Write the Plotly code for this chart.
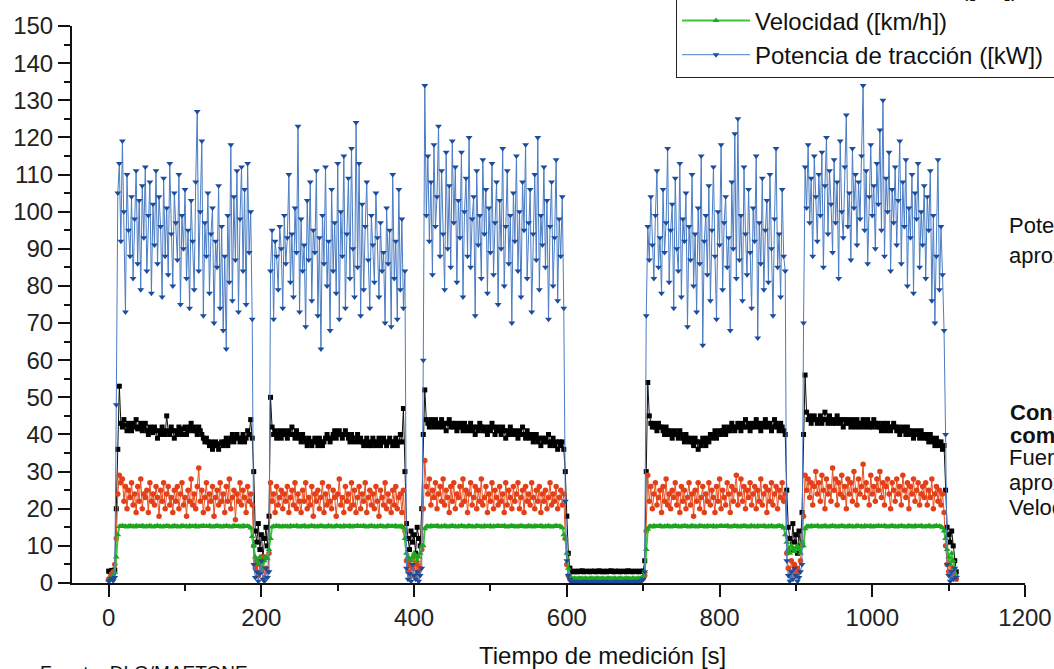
import plotly.graph_objects as go

# ---------------- sampling instants (s) per phase ----------------
T_PRE = list(range(0, 10, 2))
T_S1 = list(range(10, 190, 2))
T_G1 = list(range(190, 212, 2))
T_S2 = list(range(212, 390, 2))
T_G2 = list(range(390, 412, 2))
T_S3 = list(range(412, 598, 2))
T_FLAT = list(range(598, 704, 2))
T_S4 = list(range(704, 888, 2))
T_G4 = list(range(888, 910, 2))
T_S5 = list(range(910, 1096, 2))
T_END = list(range(1096, 1112, 2))

# ---------------- Potencia de tracción [kW] ----------------
P_PRE = [0.5, 0.8, 1.2, 0.6, 1.5]
P_S1 = [48, 105, 113, 92, 119, 100, 73, 110, 95, 88,
        104, 82, 98, 111, 86, 103, 79, 107, 93, 112,
        84, 99, 108, 78, 102, 91, 111, 86, 104, 96,
        77, 109, 88, 101, 83, 113, 94, 80, 105, 97,
        87, 110, 75, 99, 90, 106, 82, 95, 74, 103,
        92, 79, 108, 127, 84, 100, 119, 72, 97, 88,
        105, 78, 94, 101, 70, 92, 85, 107, 74, 96,
        68, 88, 63, 99, 81, 118, 76, 104, 87, 111,
        73, 98, 112, 84, 106, 75, 113, 89, 100, 71]
P_G1 = [5, 1.5, 3, 0.5, 2.5, 6, 1, 0.5, 4, 1.5, 3]
P_S2 = [84, 95, 71, 92, 88, 79, 96, 90, 74, 99,
        86, 93, 110, 81, 94, 77, 101, 89, 123, 73,
        98, 84, 91, 69, 103, 87, 108, 76, 95, 89,
        111, 72, 93, 63, 99, 86, 112, 80, 92, 68,
        106, 84, 97, 78, 113, 71, 100, 88, 115, 74,
        94, 109, 82, 117, 90, 77, 124, 85, 113, 72,
        102, 79, 96, 108, 87, 74, 99, 91, 81, 105,
        93, 77, 97, 84, 89, 70, 101, 86, 95, 69,
        110, 82, 92, 71, 106, 79, 98, 74, 84]
P_G2 = [4, 1, 2.5, 0.5, 5, 2, 1, 3, 0.5, 2, 4]
P_S3 = [60, 134, 99, 115, 92, 108, 83, 118, 96, 104,
        123, 88, 111, 94, 79, 116, 90, 107, 85, 119,
        97, 112, 81, 103, 93, 116, 77, 100, 109, 88,
        120, 85, 98, 104, 72, 111, 91, 99, 82, 114,
        94, 106, 78, 101, 89, 113, 83, 97, 108, 75,
        103, 90, 117, 80, 96, 111, 86, 99, 70, 105,
        92, 115, 84, 100, 77, 108, 95, 118, 82, 97,
        106, 73, 94, 110, 87, 120, 79, 99, 91, 112,
        85, 103, 71, 96, 108, 80, 93, 114, 76, 98,
        88, 104, 74]
P_FLAT = [22, 6, 2, 1,
          0.4, 0.3, 0.5, 0.3, 0.4, 0.2, 0.4, 0.3, 0.5, 0.3,
          0.4, 0.3, 0.2, 0.4, 0.3, 0.5, 0.4, 0.3, 0.4, 0.2,
          0.3, 0.4, 0.5, 0.3, 0.4, 0.3, 0.2, 0.4, 0.3, 0.5,
          0.4, 0.3, 0.4, 0.2, 0.3, 0.4, 0.5, 0.3, 0.4, 0.3,
          0.2, 0.4, 0.3, 0.5, 0.4, 0.3, 0.6, 1.0,
          3]
P_S4 = [72, 96, 87, 104, 91, 82, 99, 111, 85, 93,
        78, 106, 89, 97, 117, 81, 95, 102, 74, 109,
        90, 84, 113, 77, 98, 92, 105, 69, 96, 87,
        110, 80, 94, 73, 101, 86, 115, 64, 92, 99,
        83, 107, 76, 95, 112, 88, 71, 100, 91, 118,
        79, 97, 104, 85, 93, 68, 108, 90, 121, 82,
        125, 87, 99, 76, 112, 94, 83, 106, 89, 74,
        101, 92, 115, 66, 97, 86, 109, 79, 95, 103,
        81, 110, 90, 72, 98, 117, 85, 94, 77, 106,
        88, 84]
P_G4 = [6, 2, 0.5, 3, 1, 4, 2, 0.5, 1.5, 3, 5]
P_S5 = [70, 112, 101, 118, 97, 109, 88, 115, 104, 92,
        110, 99, 116, 85, 107, 120, 94, 111, 102, 89,
        114, 97, 108, 82, 119, 100, 93, 112, 126, 96,
        105, 87, 117, 101, 110, 91, 108, 98, 115, 134,
        95, 111, 86, 104, 118, 99, 107, 90, 113, 102,
        122, 95, 130, 88, 109, 100, 116, 84, 106, 97,
        112, 91, 103, 119, 86, 108, 96, 114, 80, 101,
        93, 110, 78, 105, 98, 113, 85, 100, 91, 107,
        82, 104, 95, 111, 76, 99, 70, 88, 114, 79,
        96, 83, 68]
P_END = [40, 5, 2, 0.5, 3, 1, 4, 1.5]

# ---------------- Consumo de combustible [l/h] ----------------
C_PRE = [3.2, 3.0, 3.4, 2.8, 3.5]
C_S1 = [20, 36, 53, 43, 42, 44, 42.5, 41, 43, 42,
        41, 43, 42, 44, 41.5, 42, 43, 41, 42, 43,
        41, 40, 42, 41, 40.5, 42, 41, 39, 41, 40,
        42, 41, 40, 45, 41, 40, 42, 41, 39, 41,
        40, 42, 41, 40, 41.5, 42, 40, 41, 42, 43,
        41, 42, 41, 40, 42, 41, 40, 39, 38, 39,
        38, 37, 38, 36, 37, 38, 37, 36, 37.5, 38,
        37, 38, 39, 37, 38, 39, 40, 38, 39, 40,
        39, 38, 39, 40, 38, 39, 41, 40, 44, 39]
C_G1 = [30, 14, 11, 16, 9, 13, 7, 12, 15, 10, 18]
C_S2 = [50, 42, 40, 41, 39, 40, 41, 39, 40, 41,
        40, 39, 41, 40, 42, 40, 39, 41, 40, 39,
        38, 40, 39, 38, 37, 39, 38, 37, 38, 39,
        38, 37, 39, 38, 37, 38, 39, 40, 39, 38,
        39, 40, 41, 39, 40, 41, 40, 39, 40, 41,
        40, 39, 38, 40, 39, 38, 39, 40, 38, 39,
        38, 37, 38, 39, 37, 38, 37, 39, 38, 37,
        38, 39, 37, 38, 39, 38, 37, 38, 39, 38,
        37, 38, 39, 37, 38, 40, 38, 47, 30]
C_G2 = [16, 12, 9, 14, 11, 13, 8, 15, 12, 10, 20]
C_S3 = [40, 52, 44, 43, 42, 44, 43, 42, 44, 43,
        42, 43, 44, 42, 43, 41, 43, 44, 42, 43,
        42, 43, 41, 42, 43, 42, 41, 43, 42, 41,
        42, 43, 41, 42, 40, 42, 41, 43, 42, 41,
        42, 41, 40, 42, 41, 43, 42, 40, 41, 42,
        41, 40, 42, 41, 39, 41, 40, 42, 41, 40,
        41, 40, 39, 41, 40, 42, 40, 39, 41, 40,
        39, 40, 38, 39, 40, 38, 39, 37, 39, 38,
        39, 38, 40, 37, 38, 39, 37, 38, 36, 38,
        37, 38, 36]
C_FLAT = [30, 18, 8, 4,
          3.1, 3.0, 3.2, 3.1, 3.0, 3.2, 3.1, 3.3, 3.0, 3.1,
          3.2, 3.1, 3.0, 3.2, 3.1, 3.2, 3.0, 3.1, 3.3, 3.1,
          3.0, 3.2, 3.1, 3.0, 3.2, 3.1, 3.3, 3.1, 3.0, 3.2,
          3.1, 3.2, 3.0, 3.1, 3.2, 3.1, 3.0, 3.3, 3.1, 3.2,
          3.0, 3.1, 3.2, 3.1, 3.0, 3.2, 3.1, 3.2,
          6]
C_S4 = [30, 54, 45, 43, 42, 43, 42, 41, 43, 42,
        42, 41, 40, 42, 41, 40, 41, 39, 40, 41,
        40, 39, 41, 40, 39, 38, 40, 39, 38, 39,
        38, 37, 39, 38, 36, 38, 37, 39, 38, 37,
        39, 38, 40, 39, 40, 41, 39, 40, 41, 40,
        41, 42, 40, 41, 42, 41, 43, 42, 41, 42,
        43, 42, 41, 43, 42, 44, 42, 43, 41, 42,
        43, 42, 44, 43, 42, 41, 43, 42, 44, 43,
        42, 43, 41, 42, 44, 43, 42, 41, 43, 42,
        41, 40]
C_G4 = [25, 15, 12, 9, 16, 11, 13, 8, 14, 10, 19]
C_S5 = [40, 56, 46, 44, 45, 43, 44, 45, 44, 43,
        44, 45, 43, 44, 46, 44, 43, 45, 44, 43,
        44, 43, 45, 44, 43, 44, 42, 44, 43, 44,
        43, 42, 44, 43, 42, 44, 43, 42, 43, 44,
        42, 43, 44, 42, 43, 42, 44, 43, 42, 43,
        42, 41, 43, 42, 41, 43, 42, 41, 42, 43,
        42, 41, 42, 40, 41, 42, 41, 40, 42, 41,
        40, 41, 39, 40, 41, 40, 39, 41, 40, 39,
        40, 39, 38, 40, 39, 38, 37, 39, 38, 37,
        38, 36, 37]
C_END = [25, 15, 13, 11, 14, 10, 6, 3]

# ---------------- Fuerza de tracción [kN] ----------------
F_PRE = [1.0, 1.5, 2.5, 3.0, 5.0]
F_S1 = [12, 24, 29, 27, 28, 22, 26, 20, 25, 23,
        27, 21, 24, 19, 26, 22, 28, 20, 24, 23,
        25, 19, 27, 22, 24, 21, 26, 23, 18, 25,
        22, 27, 20, 24, 26, 21, 23, 19, 25, 22,
        26, 20, 24, 27, 21, 23, 18, 25, 22, 28,
        21, 24, 20, 26, 31, 22, 25, 19, 23, 27,
        20, 24, 22, 26, 18, 23, 25, 21, 27, 22,
        24, 19, 26, 22, 28, 20, 23, 25, 17, 24,
        22, 27, 21, 25, 23, 19, 26, 22, 24, 21]
F_G1 = [10, 4, 6, 2, 5, 3, 7, 1.5, 4, 3, 8]
F_S2 = [27, 22, 24, 19, 26, 21, 23, 25, 20, 24,
        22, 26, 19, 23, 25, 21, 27, 20, 24, 22,
        19, 25, 22, 27, 20, 23, 21, 26, 18, 24,
        22, 25, 20, 23, 27, 19, 24, 21, 26, 22,
        20, 25, 23, 18, 24, 28, 21, 23, 19, 26,
        22, 24, 20, 27, 21, 25, 19, 23, 26, 20,
        24, 22, 27, 19, 23, 25, 21, 24, 20, 26,
        22, 18, 25, 23, 21, 27, 20, 24, 22, 19,
        25, 21, 26, 20, 23, 24, 19, 25, 14]
F_G2 = [6, 3, 5, 2, 4, 7, 2, 5, 3, 4, 9]
F_S3 = [20, 33, 26, 24, 28, 21, 25, 23, 27, 20,
        24, 26, 22, 28, 21, 25, 23, 19, 26, 22,
        27, 20, 24, 23, 26, 21, 28, 22, 25, 19,
        24, 27, 21, 23, 26, 20, 25, 22, 28, 21,
        23, 26, 19, 24, 22, 27, 20, 25, 23, 21,
        26, 22, 24, 19, 27, 21, 25, 23, 20, 26,
        22, 24, 27, 20, 23, 25, 19, 26, 22, 24,
        21, 27, 23, 20, 25, 22, 26, 19, 24, 22,
        25, 20, 23, 27, 21, 24, 22, 26, 20, 23,
        25, 21, 24]
F_FLAT = [12, 5, 2, 1,
          0.5, 0.4, 0.6, 0.5, 0.4, 0.6, 0.5, 0.7, 0.4, 0.5,
          0.6, 0.5, 0.4, 0.6, 0.5, 0.6, 0.4, 0.5, 0.7, 0.5,
          0.4, 0.6, 0.5, 0.4, 0.6, 0.5, 0.7, 0.5, 0.4, 0.6,
          0.5, 0.6, 0.4, 0.5, 0.6, 0.5, 0.4, 0.7, 0.5, 0.6,
          0.4, 0.5, 0.6, 0.5, 0.4, 0.6, 0.8, 1.2,
          2]
F_S4 = [14, 29, 22, 26, 20, 24, 27, 21, 23, 25,
        19, 26, 22, 28, 21, 24, 20, 25, 23, 27,
        21, 24, 19, 26, 22, 25, 20, 23, 27, 21,
        24, 18, 25, 22, 27, 20, 23, 26, 19, 24,
        22, 27, 21, 25, 23, 19, 26, 22, 28, 20,
        25, 23, 21, 27, 24, 19, 26, 22, 25, 29,
        21, 24, 28, 22, 26, 20, 25, 23, 27, 21,
        24, 26, 20, 25, 22, 28, 21, 24, 26, 19,
        25, 22, 27, 21, 24, 26, 20, 25, 23, 27,
        22, 24]
F_G4 = [8, 4, 2, 6, 3, 5, 2, 4, 3, 6, 10]
F_S5 = [18, 29, 25, 28, 23, 27, 21, 26, 30, 24,
        27, 22, 29, 25, 20, 28, 24, 26, 22, 31,
        25, 28, 21, 27, 24, 29, 23, 26, 20, 28,
        24, 27, 22, 30, 25, 21, 28, 24, 26, 32,
        23, 27, 25, 21, 29, 24, 26, 22, 28, 25,
        30, 23, 27, 21, 26, 28, 24, 20, 27, 25,
        22, 28, 24, 26, 21, 29, 25, 23, 27, 20,
        26, 24, 28, 22, 25, 27, 21, 24, 26, 23,
        27, 21, 25, 23, 28, 20, 24, 26, 22, 25,
        21, 24, 19]
F_END = [10, 5, 3, 6, 2, 4, 2, 1]

# ---------------- Velocidad [km/h] ----------------
V_PRE = [0.8, 1.0, 1.4, 2.0, 2.8]
V_S1 = [7, 13, 15.2, 15.3, 15.4, 15.2, 15.3, 15.1, 15.3, 15.4,
        15.2, 15.3, 15.1, 15.4, 15.2, 15.3, 15.2, 15.4, 15.3, 15.1,
        15.3, 15.2, 15.4, 15.3, 15.1, 15.2, 15.3, 15.4, 15.2, 15.3,
        15.1, 15.3, 15.2, 15.4, 15.3, 15.2, 15.1, 15.3, 15.4, 15.2,
        15.3, 15.1, 15.2, 15.4, 15.3, 15.2, 15.3, 15.1, 15.4, 15.2,
        15.3, 15.2, 15.4, 15.1, 15.3, 15.2, 15.3, 15.4, 15.2, 15.3,
        15.2, 15.4, 15.3, 15.1, 15.2, 15.3, 15.4, 15.2, 15.3, 15.1,
        15.3, 15.2, 15.4, 15.3, 15.2, 15.1, 15.3, 15.4, 15.2, 15.3,
        15.2, 15.3, 15.1, 15.4, 15.3, 15.2, 15.3, 15.2, 14.8, 12.5]
V_G1 = [10, 7, 6, 5, 7, 5.5, 4, 6, 7, 6.5, 9]
V_S2 = [12, 15.1, 15.3, 15.2, 15.4, 15.2, 15.3, 15.1, 15.3, 15.2,
        15.2, 15.3, 15.1, 15.4, 15.2, 15.3, 15.2, 15.4, 15.3, 15.1,
        15.3, 15.2, 15.4, 15.3, 15.1, 15.2, 15.3, 15.4, 15.2, 15.3,
        15.1, 15.3, 15.2, 15.4, 15.3, 15.2, 15.1, 15.3, 15.4, 15.2,
        15.3, 15.1, 15.2, 15.4, 15.3, 15.2, 15.3, 15.1, 15.4, 15.2,
        15.3, 15.2, 15.4, 15.1, 15.3, 15.2, 15.3, 15.4, 15.2, 15.3,
        15.2, 15.4, 15.3, 15.1, 15.2, 15.3, 15.4, 15.2, 15.3, 15.1,
        15.3, 15.2, 15.4, 15.3, 15.2, 15.1, 15.3, 15.4, 15.2, 15.3,
        15.3, 15.2, 15.4, 15.1, 15.3, 15.2, 15.3, 14.9, 12]
V_G2 = [8, 7, 6.5, 6, 7, 8, 7.5, 6, 7, 8, 10]
V_S3 = [10, 14.6, 15.2, 15.3, 15.1, 15.4, 15.2, 15.3, 15.2, 15.4,
        15.3, 15.1, 15.3, 15.2, 15.4, 15.3, 15.1, 15.2, 15.3, 15.4,
        15.2, 15.3, 15.1, 15.3, 15.2, 15.4, 15.3, 15.2, 15.1, 15.3,
        15.4, 15.2, 15.3, 15.1, 15.2, 15.4, 15.3, 15.2, 15.3, 15.1,
        15.4, 15.2, 15.3, 15.2, 15.4, 15.1, 15.3, 15.2, 15.3, 15.4,
        15.2, 15.3, 15.2, 15.4, 15.3, 15.1, 15.2, 15.3, 15.4, 15.2,
        15.3, 15.1, 15.3, 15.2, 15.4, 15.3, 15.2, 15.1, 15.3, 15.4,
        15.2, 15.3, 15.1, 15.4, 15.2, 15.3, 15.2, 15.4, 15.3, 15.1,
        15.3, 15.2, 15.4, 15.3, 15.1, 15.2, 15.3, 15.4, 15.2, 15.3,
        15.2, 14.9, 13]
V_FLAT = [12, 8, 4, 2,
          1.2, 1.1, 1.3, 1.2, 1.1, 1.3, 1.2, 1.2, 1.1, 1.3,
          1.2, 1.1, 1.2, 1.3, 1.2, 1.1, 1.2, 1.3, 1.2, 1.1,
          1.3, 1.2, 1.1, 1.2, 1.3, 1.2, 1.2, 1.1, 1.3, 1.2,
          1.1, 1.2, 1.3, 1.2, 1.1, 1.2, 1.3, 1.2, 1.2, 1.1,
          1.3, 1.2, 1.1, 1.2, 1.3, 1.2, 1.4, 1.8,
          3]
V_S4 = [9, 14.5, 15.2, 15.3, 15.1, 15.4, 15.2, 15.3, 15.2, 15.4,
        15.3, 15.1, 15.3, 15.2, 15.4, 15.3, 15.1, 15.2, 15.3, 15.4,
        15.2, 15.3, 15.1, 15.3, 15.2, 15.4, 15.3, 15.2, 15.1, 15.3,
        15.4, 15.2, 15.3, 15.1, 15.2, 15.4, 15.3, 15.2, 15.3, 15.1,
        15.4, 15.2, 15.3, 15.2, 15.4, 15.1, 15.3, 15.2, 15.3, 15.4,
        15.2, 15.3, 15.2, 15.4, 15.3, 15.1, 15.2, 15.3, 15.4, 15.2,
        15.3, 15.1, 15.3, 15.2, 15.4, 15.3, 15.2, 15.1, 15.3, 15.4,
        15.2, 15.3, 15.1, 15.4, 15.2, 15.3, 15.2, 15.4, 15.3, 15.1,
        15.3, 15.2, 15.4, 15.3, 15.1, 15.2, 15.3, 15.4, 15.2, 15.3,
        14.8, 13]
V_G4 = [11, 9, 8, 10, 9, 8.5, 9.5, 10, 9, 8, 11]
V_S5 = [10, 14.6, 15.2, 15.3, 15.1, 15.4, 15.2, 15.3, 15.2, 15.4,
        15.3, 15.1, 15.3, 15.2, 15.4, 15.3, 15.1, 15.2, 15.3, 15.4,
        15.2, 15.3, 15.1, 15.3, 15.2, 15.4, 15.3, 15.2, 15.1, 15.3,
        15.4, 15.2, 15.3, 15.1, 15.2, 15.4, 15.3, 15.2, 15.3, 15.1,
        15.4, 15.2, 15.3, 15.2, 15.4, 15.1, 15.3, 15.2, 15.3, 15.4,
        15.2, 15.3, 15.2, 15.4, 15.3, 15.1, 15.2, 15.3, 15.4, 15.2,
        15.3, 15.1, 15.3, 15.2, 15.4, 15.3, 15.2, 15.1, 15.3, 15.4,
        15.2, 15.3, 15.1, 15.4, 15.2, 15.3, 15.2, 15.4, 15.3, 15.1,
        15.3, 15.2, 15.4, 15.3, 15.1, 15.2, 15.3, 15.4, 15.2, 15.3,
        15.2, 14.9, 14]
V_END = [12, 9, 7, 5, 8, 6, 4, 2]

# ---------------- texts ----------------
LEGEND_NAMES = ["Consumo de combustible ([l/h])", "Fuerza de tracción ([kN])",
                "Velocidad ([km/h])", "Potencia de tracción ([kW])"]
X_TITLE = "Tiempo de medición [s]"
SOURCE = "Fuente: DLG/MAETONE"
X_TICKS = [0, 200, 400, 600, 800, 1000, 1200]
Y_TICKS = list(range(0, 151, 10))

T_ALL = T_PRE + T_S1 + T_G1 + T_S2 + T_G2 + T_S3 + T_FLAT + T_S4 + T_G4 + T_S5 + T_END
def join(*parts):
    out = []
    for p in parts:
        out += p
    assert len(out) == len(T_ALL), (len(out), len(T_ALL))
    return out

POT = join(P_PRE, P_S1, P_G1, P_S2, P_G2, P_S3, P_FLAT, P_S4, P_G4, P_S5, P_END)
CON = join(C_PRE, C_S1, C_G1, C_S2, C_G2, C_S3, C_FLAT, C_S4, C_G4, C_S5, C_END)
FUE = join(F_PRE, F_S1, F_G1, F_S2, F_G2, F_S3, F_FLAT, F_S4, F_G4, F_S5, F_END)
VEL = join(V_PRE, V_S1, V_G1, V_S2, V_G2, V_S3, V_FLAT, V_S4, V_G4, V_S5, V_END)

FONT = "Liberation Sans, Arial, sans-serif"
W, H = 1054, 669
ML, MR, MT, MB = 72, 29, 26, 86
PW, PH = W - ML - MR, H - MT - MB

def px(x):
    return (x - ML) / PW

def py(y):
    return (H - MB - y) / PH

fig = go.Figure()
specs = [
    (LEGEND_NAMES[0], CON, "#111111", "#000000", "square", 5, 1, 1),
    (LEGEND_NAMES[1], FUE, "#e8501e", "#e2401a", "circle", 5.5, 1, 2),
    (LEGEND_NAMES[2], VEL, "#3cc43c", "#1ea61e", "triangle-up", 6, 2, 3),
    (LEGEND_NAMES[3], POT, "#4a7cc4", "#1c4c9c", "triangle-down", 6, 1, 4),
]
for name, ys, lc, mc, sym, sz, lw, rk in specs:
    fig.add_trace(go.Scatter(
        x=T_ALL, y=ys, name=name, mode="lines+markers",
        line=dict(color=lc, width=lw),
        marker=dict(symbol=sym, size=sz, color=mc, line=dict(width=0)),
        cliponaxis=False, legendrank=rk, hoverinfo="skip"))

axis_common = dict(showline=True, linecolor="#111", linewidth=2, showgrid=False,
                   zeroline=False, ticks="outside", tickcolor="#111", tickwidth=2,
                   tickfont=dict(family=FONT, size=24, color="#222"))
fig.update_xaxes(range=[-48, 1200], tickvals=X_TICKS, ticklen=12,
                 minor=dict(dtick=100, ticklen=6, tickwidth=2, tickcolor="#111", ticks="outside"),
                 **axis_common)
fig.update_yaxes(range=[0, 150], tickvals=Y_TICKS, ticklen=12,
                 minor=dict(dtick=5, ticklen=6, tickwidth=2, tickcolor="#111", ticks="outside"),
                 **axis_common)

annots = [
    (X_TITLE, 602, 655, "center", 24, False),
    (SOURCE, 38, 672, "left", 19, False),
    ("Potencia de tracción", 1007, 225, "left", 22, False),
    ("aprox. 95 kW", 1007, 255, "left", 22, False),
    ("Consumo de", 1008, 412, "left", 22, True),
    ("combustible aprox. 40 l/h", 1008, 435, "left", 22, True),
    ("Fuerza de tracción", 1007, 458, "left", 22, False),
    ("aprox. 23 kN", 1007, 482, "left", 22, False),
    ("Velocidad aprox. 15 km/h", 1007, 507, "left", 22, False),
]
for txt, x, y, anc, sz, bold in annots:
    fig.add_annotation(text=f"<b>{txt}</b>" if bold else txt, x=px(x), y=py(y),
                       xref="paper", yref="paper", xanchor=anc, yanchor="middle",
                       showarrow=False, font=dict(family=FONT, size=sz, color="#111"))

fig.update_layout(
    width=W, height=H, plot_bgcolor="white", paper_bgcolor="white",
    margin=dict(l=ML, r=MR, t=MT, b=MB, autoexpand=False),
    showlegend=True, hovermode=False,
    legend=dict(x=px(676), y=py(78), xanchor="left", yanchor="bottom",
                bordercolor="#222", borderwidth=1, bgcolor="white",
                font=dict(family=FONT, size=24, color="#111"),
                itemwidth=68, tracegroupgap=0, traceorder="normal"),
)

fig.write_html("out.html", config={"displayModeBar": False, "staticPlot": True},
               post_script="document.body.style.margin='0px';")
